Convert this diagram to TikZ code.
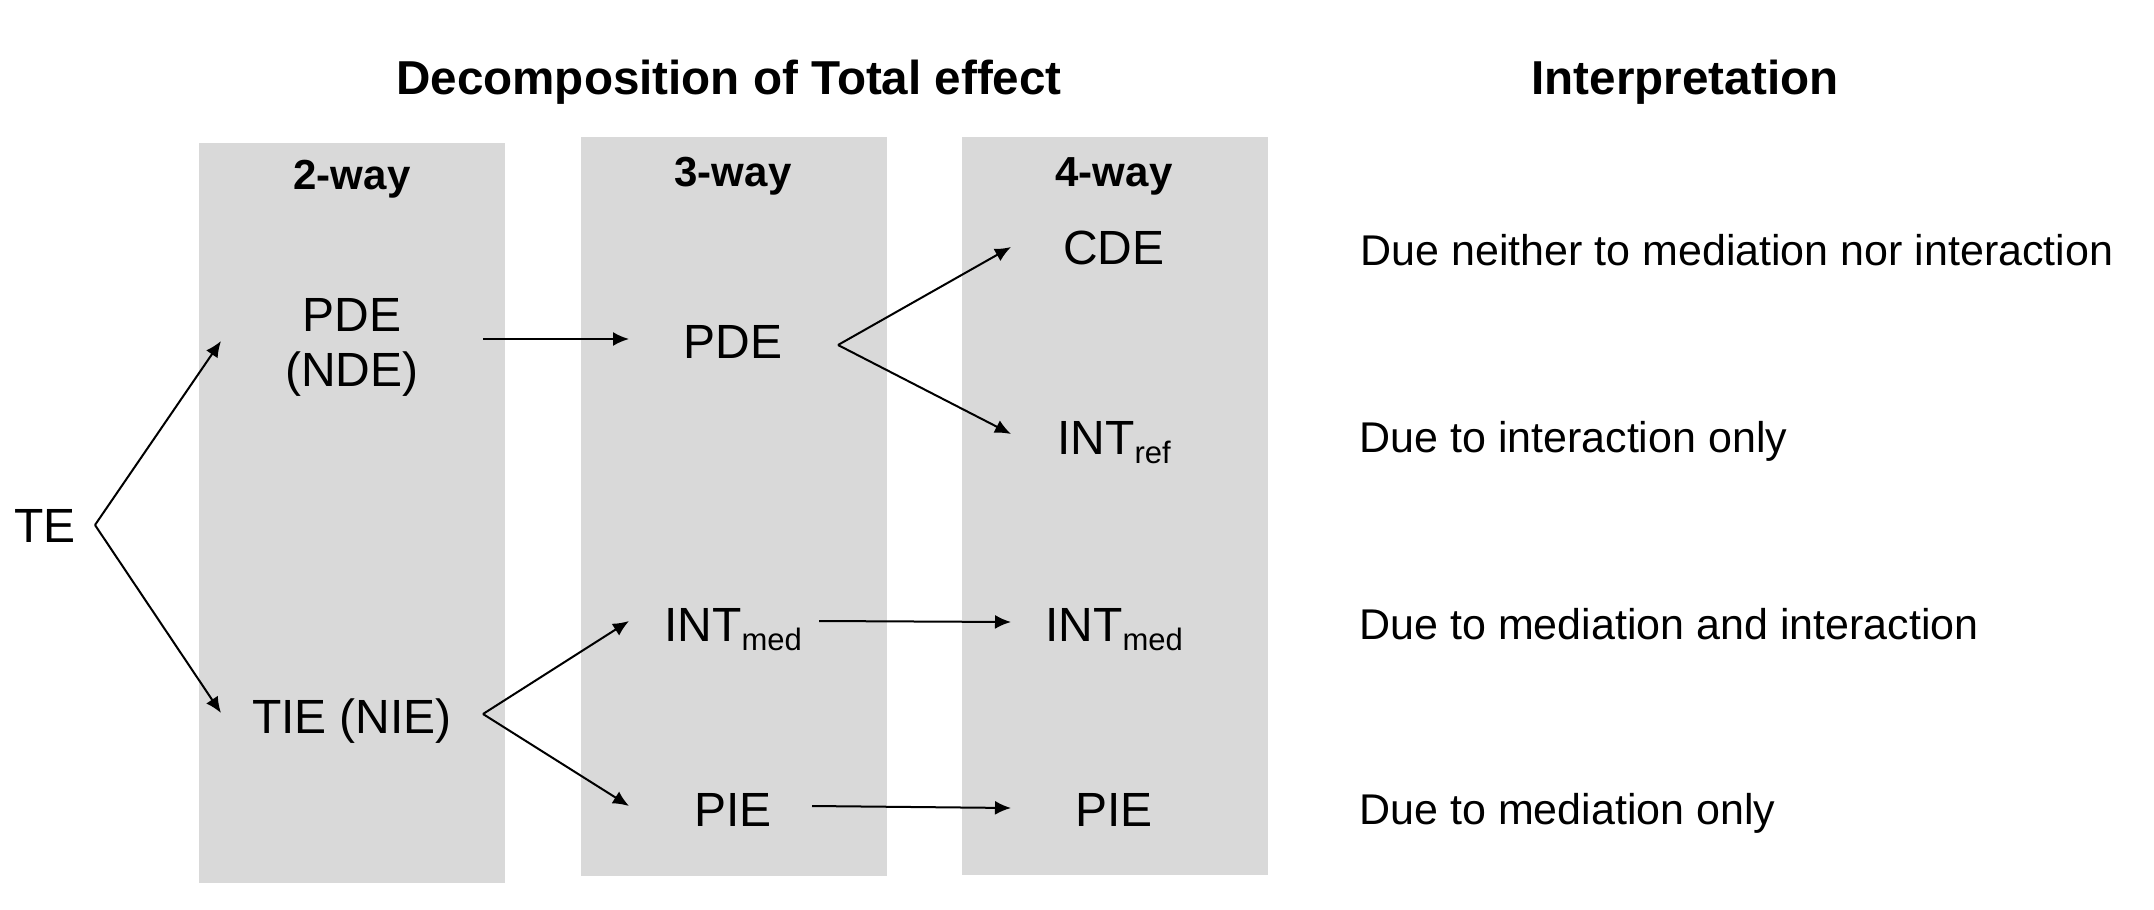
\documentclass[tikz,border=0pt]{standalone}
\usepackage{fontspec}
\setmainfont{Liberation Sans}
\usetikzlibrary{arrows.meta}
\definecolor{boxgray}{HTML}{D9D9D9}
\newcommand{\mysub}[1]{\raisebox{-0.2em}{\fontsize{15.5}{18}\selectfont #1}}
\tikzset{
  colbox/.style={fill=boxgray,draw=none},
  lbl/.style={anchor=base,inner sep=0pt,font=\fontsize{24}{27.5}\selectfont},
  ttl/.style={anchor=base,inner sep=0pt,font=\fontsize{23.8}{28}\selectfont\bfseries},
  wayl/.style={anchor=base,inner sep=0pt,font=\fontsize{21}{25}\selectfont\bfseries},
  interp/.style={anchor=base west,inner sep=0pt,font=\fontsize{21.5}{25}\selectfont},
  arr/.style={-{Latex[length=8pt,width=7pt]},line width=1pt},
}
\begin{document}
\begin{tikzpicture}[x=0.5pt,y=-0.5pt]
\useasboundingbox (0,0) rectangle (2154,910);
% column boxes
\fill[colbox] (199,143) rectangle (505,883);
\fill[colbox] (581,137) rectangle (887,876);
\fill[colbox] (962,137) rectangle (1268,875);
% titles
\node[ttl] (t1) at (729,94) {Decomposition of Total effect};
\node[ttl] (t2) at (1685,94) {Interpretation};
\node[wayl] (w2) at (352,189) {2-way};
\node[wayl] (w3) at (733,186) {3-way};
\node[wayl] (w4) at (1114,186) {4-way};
% nodes
\node[lbl] (te) at (45,542) {TE};
\node[lbl,align=center] (pdende) at (352,386) {PDE\\(NDE)};
\node[lbl] (tie) at (352,733) {TIE (NIE)};
\node[lbl] (pde) at (733,358) {PDE};
\node[lbl] (intmedA) at (733,641) {INT\mysub{med}};
\node[lbl] (pieA) at (733,826) {PIE};
\node[lbl] (cde) at (1114,264) {CDE};
\node[lbl] (intref) at (1114,454) {INT\mysub{ref}};
\node[lbl] (intmedB) at (1114,641) {INT\mysub{med}};
\node[lbl] (pieB) at (1114,826) {PIE};
% interpretation
\node[interp] (i1) at (1360,265) {Due neither to mediation nor interaction};
\node[interp] (i2) at (1359,452) {Due to interaction only};
\node[interp] (i3) at (1359,639) {Due to mediation and interaction};
\node[interp] (i4) at (1359,824) {Due to mediation only};
% connector points
\coordinate (teA) at (95,525);
\coordinate (pdendeIn) at (221,341);
\coordinate (tieIn) at (221,713);
\coordinate (pdendeOut) at (483,339);
\coordinate (pdeIn) at (629,339);
\coordinate (tieA) at (483,714);
\coordinate (intmedAIn) at (629,621);
\coordinate (pieAIn) at (629,806);
\coordinate (pdeA) at (838,345);
\coordinate (cdeIn) at (1011,247);
\coordinate (intrefIn) at (1011,434);
\coordinate (intmedAOut) at (819,621);
\coordinate (intmedBIn) at (1011,622);
\coordinate (pieAOut) at (812,806);
\coordinate (pieBIn) at (1011,808);
% connectors
\draw[arr] (teA) -- (pdendeIn);
\draw[arr] (teA) -- (tieIn);
\draw[arr] (pdendeOut) -- (pdeIn);
\draw[arr] (tieA) -- (intmedAIn);
\draw[arr] (tieA) -- (pieAIn);
\draw[arr] (pdeA) -- (cdeIn);
\draw[arr] (pdeA) -- (intrefIn);
\draw[arr] (intmedAOut) -- (intmedBIn);
\draw[arr] (pieAOut) -- (pieBIn);
\end{tikzpicture}
\end{document}
